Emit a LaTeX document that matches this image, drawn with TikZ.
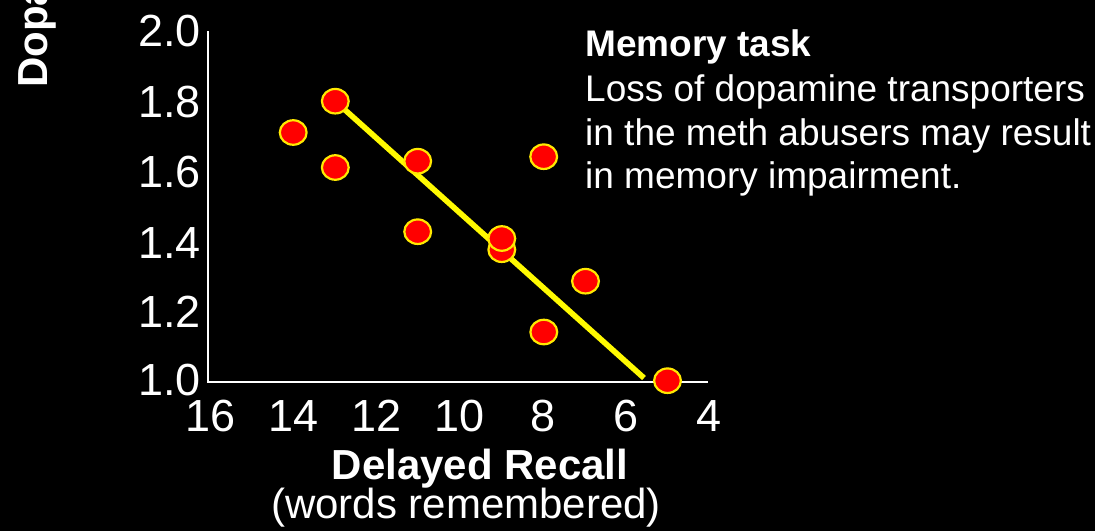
\documentclass[tikz,border=0pt]{standalone}
\usepackage{fontspec}
\setmainfont{Liberation Sans}
\usetikzlibrary{shapes.geometric}
\definecolor{dotred}{RGB}{255,0,0}
\definecolor{dotrim}{RGB}{255,232,0}
\definecolor{regyellow}{RGB}{255,250,0}
\begin{document}
\begin{tikzpicture}[x=1pt,y=-1pt,
  axisline/.style={draw=white,line width=2.3pt,line join=miter},
  regline/.style={draw=regyellow,line width=5.6pt},
  dot/.style={ellipse,draw=dotrim,fill=dotred,line width=2.2pt,inner sep=0pt,minimum width=26.8pt,minimum height=24.5pt},
  ticklab/.style={text=white,inner sep=0pt,font=\fontsize{45}{54}\selectfont},
  axlab/.style={text=white,inner sep=0pt,font=\fontsize{42}{50}\selectfont},
  note/.style={text=white,inner sep=0pt,anchor=base west,font=\fontsize{37}{44}\selectfont}]
\fill[black] (0,0) rectangle (1095,531);
\useasboundingbox (0,0) rectangle (1095,531);
\clip (0,0) rectangle (1095,531);
% axis label (cut off at the top)
\node[axlab,font=\fontsize{42}{50}\selectfont\bfseries,rotate=90,anchor=base west] (ylab) at (47,88) {Dopa};
% axes
\coordinate (ytop) at (208,31);
\coordinate (orig) at (208,382);
\coordinate (xend) at (708,382);
\draw[axisline] (ytop) -- (orig) -- (xend);
% y tick labels
\node[ticklab,anchor=base east] (y20) at (201,46) {2.0};
\node[ticklab,anchor=base east] (y18) at (201,117) {1.8};
\node[ticklab,anchor=base east] (y16) at (201,187.5) {1.6};
\node[ticklab,anchor=base east] (y14) at (201,258.5) {1.4};
\node[ticklab,anchor=base east] (y12) at (201,327) {1.2};
\node[ticklab,anchor=base east] (y10) at (201,395.5) {1.0};
% x tick labels
\node[ticklab,anchor=base] (x16) at (211,431) {16};
\node[ticklab,anchor=base] (x14) at (294,431) {14};
\node[ticklab,anchor=base] (x12) at (377,431) {12};
\node[ticklab,anchor=base] (x10) at (460,431) {10};
\node[ticklab,anchor=base] (x8) at (543,431) {8};
\node[ticklab,anchor=base] (x6) at (626,431) {6};
\node[ticklab,anchor=base] (x4) at (709,431) {4};
% x axis title
\node[axlab,anchor=base,font=\fontsize{42}{50}\selectfont\bfseries] (xt1) at (480,479) {Delayed Recall};
\node[axlab,anchor=base] (xt2) at (466,518) {(words remembered)};
% regression line
\coordinate (lstart) at (335.3,101.2);
\coordinate (lend) at (644,378);
\draw[regline] (lstart) -- (lend);
% data points
\node[dot] (pa) at (335.3,101.2) {};
\node[dot] (pb) at (293.2,132.5) {};
\node[dot] (pc) at (335.3,167.5) {};
\node[dot] (pd) at (417.7,161.2) {};
\node[dot] (pe) at (543.7,156.7) {};
\node[dot] (pf) at (417.7,231.7) {};
\node[dot] (ph) at (501.8,249.7) {};
\node[dot] (pg) at (501.8,238.5) {};
\node[dot] (pi) at (585.5,281.2) {};
\node[dot] (pj) at (543.8,332) {};
\node[dot] (pk) at (667.5,380.7) {};
% note
\node[note,font=\fontsize{37}{44}\selectfont\bfseries] (n1) at (585,56) {Memory task};
\node[note] (n2) at (585,101) {Loss of dopamine transporters};
\node[note] (n3) at (585,145) {in the meth abusers may result};
\node[note] (n4) at (585,188) {in memory impairment.};
\end{tikzpicture}
\end{document}
